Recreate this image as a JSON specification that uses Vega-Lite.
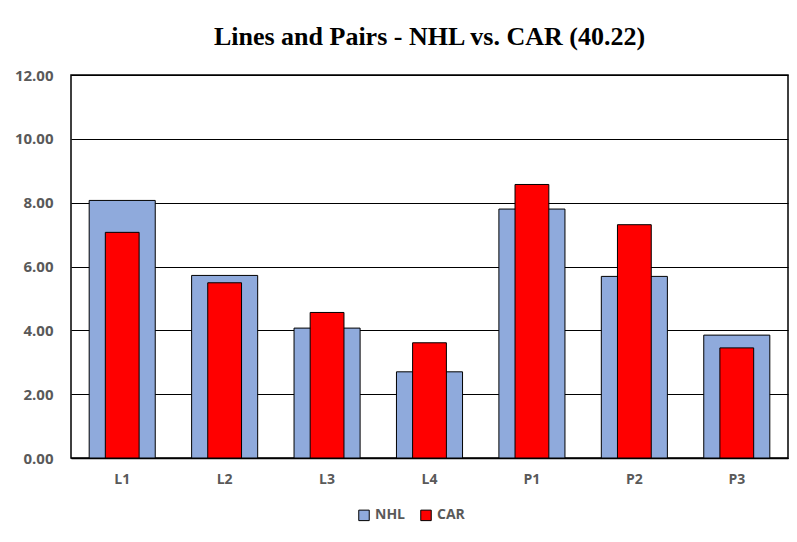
{
  "$schema": "https://vega.github.io/schema/vega-lite/v6.json",
  "autosize": {"type": "none"},
  "width": 717,
  "height": 383,
  "padding": {"left": 71, "top": 75, "right": 9, "bottom": 84},
  "background": "white",
  "title": {
    "text": "Lines and Pairs - NHL vs. CAR (40.22)",
    "font": "Liberation Serif",
    "fontSize": 26,
    "fontWeight": "bold",
    "color": "#000000",
    "anchor": "middle",
    "offset": 18
  },
  "data": {
    "values": [
      {"cat": "L1", "NHL": 8.07, "CAR": 7.07},
      {"cat": "L2", "NHL": 5.72, "CAR": 5.49},
      {"cat": "L3", "NHL": 4.07, "CAR": 4.56},
      {"cat": "L4", "NHL": 2.70, "CAR": 3.61},
      {"cat": "P1", "NHL": 7.80, "CAR": 8.57},
      {"cat": "P2", "NHL": 5.69, "CAR": 7.31},
      {"cat": "P3", "NHL": 3.85, "CAR": 3.45}
    ]
  },
  "encoding": {
    "x": {
      "field": "cat",
      "type": "nominal",
      "sort": null,
      "scale": {"paddingInner": 0, "paddingOuter": 0},
      "axis": {
        "title": null,
        "labelAngle": 0,
        "ticks": false,
        "domain": true,
        "domainColor": "#000000",
        "domainWidth": 1.5,
        "labelPadding": 14,
        "labelFont": "Open Sans",
        "labelFontSize": 14,
        "labelFontWeight": "bold",
        "labelColor": "#595959"
      }
    }
  },
  "layer": [
    {
      "mark": {"type": "bar", "width": {"band": 0.645}, "stroke": "#000000", "strokeWidth": 1},
      "encoding": {
        "y": {
          "field": "NHL",
          "type": "quantitative",
          "scale": {"domain": [0, 12], "nice": false},
          "axis": {
            "title": null,
            "values": [0, 2, 4, 6, 8, 10, 12],
            "format": ".2f",
            "ticks": false,
            "domain": false,
            "grid": true,
            "gridColor": "#000000",
            "gridWidth": 1.2,
            "gridOpacity": 1,
            "labelPadding": 18,
            "labelFont": "Open Sans",
            "labelFontSize": 15,
            "labelFontWeight": "bold",
            "labelColor": "#595959"
          }
        },
        "color": {
          "datum": "NHL",
          "type": "nominal",
          "scale": {"domain": ["NHL", "CAR"], "range": ["#8FAADC", "#FF0000"]},
          "legend": {
            "title": null,
            "orient": "none",
            "legendX": 286,
            "legendY": 433,
            "direction": "horizontal",
            "symbolType": "square",
            "symbolSize": 110,
            "symbolStrokeColor": "#000000",
            "symbolStrokeWidth": 1,
            "labelFont": "Open Sans",
            "labelFontSize": 14,
            "labelFontWeight": "bold",
            "labelColor": "#595959",
            "columnPadding": 12
          }
        }
      }
    },
    {
      "mark": {"type": "bar", "width": {"band": 0.33}, "stroke": "#000000", "strokeWidth": 1},
      "encoding": {
        "y": {"field": "CAR", "type": "quantitative"},
        "color": {"datum": "CAR", "type": "nominal"}
      }
    }
  ],
  "config": {
    "view": {"stroke": "#000000", "strokeWidth": 1.5}
  }
}
